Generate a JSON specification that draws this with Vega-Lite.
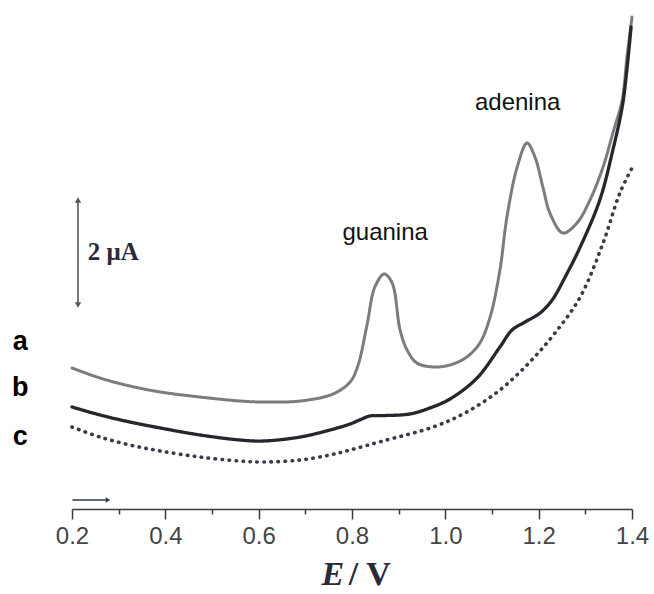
{
  "$schema": "https://vega.github.io/schema/vega-lite/v6.json",
  "width": 560,
  "height": 504,
  "autosize": "none",
  "padding": {"left": 72, "top": 5, "right": 22, "bottom": 85},
  "background": "white",
  "config": {"view": {"stroke": null}},
  "datasets": {
    "curves": [
      {"E": 0.200, "I": 2.686, "s": "a"}, {"E": 0.260, "I": 2.495, "s": "a"}, {"E": 0.324, "I": 2.343, "s": "a"},
      {"E": 0.389, "I": 2.229, "s": "a"}, {"E": 0.474, "I": 2.133, "s": "a"}, {"E": 0.560, "I": 2.057, "s": "a"},
      {"E": 0.609, "I": 2.038, "s": "a"}, {"E": 0.689, "I": 2.057, "s": "a"}, {"E": 0.759, "I": 2.190, "s": "a"},
      {"E": 0.796, "I": 2.420, "s": "a"}, {"E": 0.813, "I": 2.740, "s": "a"}, {"E": 0.832, "I": 3.500, "s": "a"},
      {"E": 0.849, "I": 4.229, "s": "a"}, {"E": 0.869, "I": 4.476, "s": "a"}, {"E": 0.886, "I": 4.305, "s": "a"},
      {"E": 0.903, "I": 3.410, "s": "a"}, {"E": 0.918, "I": 3.029, "s": "a"}, {"E": 0.939, "I": 2.781, "s": "a"},
      {"E": 0.974, "I": 2.705, "s": "a"}, {"E": 1.010, "I": 2.743, "s": "a"}, {"E": 1.046, "I": 2.895, "s": "a"},
      {"E": 1.074, "I": 3.162, "s": "a"}, {"E": 1.096, "I": 3.657, "s": "a"}, {"E": 1.117, "I": 4.552, "s": "a"},
      {"E": 1.132, "I": 5.562, "s": "a"}, {"E": 1.154, "I": 6.514, "s": "a"}, {"E": 1.175, "I": 6.971, "s": "a"},
      {"E": 1.192, "I": 6.705, "s": "a"}, {"E": 1.209, "I": 6.133, "s": "a"}, {"E": 1.224, "I": 5.638, "s": "a"},
      {"E": 1.252, "I": 5.257, "s": "a"}, {"E": 1.282, "I": 5.448, "s": "a"}, {"E": 1.310, "I": 5.886, "s": "a"},
      {"E": 1.338, "I": 6.514, "s": "a"}, {"E": 1.359, "I": 7.162, "s": "a"}, {"E": 1.379, "I": 7.790, "s": "a"},
      {"E": 1.389, "I": 8.590, "s": "a"}, {"E": 1.400, "I": 9.371, "s": "a"},

      {"E": 0.200, "I": 1.943, "s": "b"}, {"E": 0.260, "I": 1.790, "s": "b"}, {"E": 0.324, "I": 1.657, "s": "b"},
      {"E": 0.389, "I": 1.543, "s": "b"}, {"E": 0.474, "I": 1.410, "s": "b"}, {"E": 0.560, "I": 1.314, "s": "b"},
      {"E": 0.609, "I": 1.295, "s": "b"}, {"E": 0.689, "I": 1.371, "s": "b"}, {"E": 0.753, "I": 1.505, "s": "b"},
      {"E": 0.796, "I": 1.619, "s": "b"}, {"E": 0.821, "I": 1.714, "s": "b"}, {"E": 0.838, "I": 1.771, "s": "b"},
      {"E": 0.870, "I": 1.780, "s": "b"}, {"E": 0.924, "I": 1.810, "s": "b"}, {"E": 0.967, "I": 1.924, "s": "b"},
      {"E": 1.010, "I": 2.095, "s": "b"}, {"E": 1.068, "I": 2.495, "s": "b"}, {"E": 1.117, "I": 3.086, "s": "b"},
      {"E": 1.143, "I": 3.410, "s": "b"}, {"E": 1.171, "I": 3.562, "s": "b"}, {"E": 1.203, "I": 3.733, "s": "b"},
      {"E": 1.229, "I": 3.981, "s": "b"}, {"E": 1.259, "I": 4.457, "s": "b"}, {"E": 1.289, "I": 4.990, "s": "b"},
      {"E": 1.331, "I": 5.886, "s": "b"}, {"E": 1.359, "I": 6.838, "s": "b"}, {"E": 1.379, "I": 7.657, "s": "b"},
      {"E": 1.389, "I": 8.362, "s": "b"}, {"E": 1.398, "I": 9.181, "s": "b"},

      {"E": 0.200, "I": 1.562, "s": "c"}, {"E": 0.260, "I": 1.371, "s": "c"}, {"E": 0.324, "I": 1.219, "s": "c"},
      {"E": 0.389, "I": 1.105, "s": "c"}, {"E": 0.474, "I": 0.990, "s": "c"}, {"E": 0.560, "I": 0.914, "s": "c"},
      {"E": 0.609, "I": 0.895, "s": "c"}, {"E": 0.689, "I": 0.933, "s": "c"}, {"E": 0.753, "I": 1.029, "s": "c"},
      {"E": 0.796, "I": 1.124, "s": "c"}, {"E": 0.866, "I": 1.295, "s": "c"}, {"E": 0.974, "I": 1.562, "s": "c"},
      {"E": 1.046, "I": 1.848, "s": "c"}, {"E": 1.117, "I": 2.267, "s": "c"}, {"E": 1.181, "I": 2.800, "s": "c"},
      {"E": 1.235, "I": 3.352, "s": "c"}, {"E": 1.289, "I": 4.038, "s": "c"}, {"E": 1.338, "I": 5.067, "s": "c"},
      {"E": 1.374, "I": 6.019, "s": "c"}, {"E": 1.400, "I": 6.495, "s": "c"}
    ],
    "curveLabels": [
      {"E": 0.089, "I": 3.18, "t": "a"},
      {"E": 0.089, "I": 2.30, "t": "b"},
      {"E": 0.089, "I": 1.37, "t": "c"}
    ],
    "peaks": [
      {"E": 0.871, "I": 5.12, "t": "guanina"},
      {"E": 1.155, "I": 7.60, "t": "adenina"}
    ],
    "scalebar": [{"E": 0.2129, "I1": 3.886, "I2": 5.886, "t": "2 μA", "Et": 0.234, "Im": 4.886}]
  },
  "layer": [
    {
      "data": {"name": "curves"},
      "mark": {"type": "line", "interpolate": "catmull-rom", "strokeCap": "round"},
      "encoding": {
        "x": {
          "field": "E", "type": "quantitative",
          "scale": {"domain": [0.2, 1.4], "nice": false, "zero": false},
          "axis": {
            "values": [0.2, 0.3, 0.4, 0.5, 0.6, 0.7, 0.8, 0.9, 1.0, 1.1, 1.2, 1.3, 1.4],
            "title": null,
            "grid": false,
            "domainColor": "#3a3a44",
            "domainWidth": 1.5,
            "tickColor": "#3a3a44",
            "tickWidth": 1.5,
            "tickSize": {"condition": {"test": "round(datum.value*10)%2==0", "value": 10}, "value": 5},
            "labelExpr": "round(datum.value*10)%2==0 ? format(datum.value, '.1f') : ''",
            "labelFont": "Liberation Sans",
            "labelFontSize": 24,
            "labelColor": "#444",
            "labelPadding": 5,
            "labelOverlap": false,
            "labelFlush": false
          }
        },
        "y": {
          "field": "I", "type": "quantitative",
          "scale": {"domain": [0, 9.6], "nice": false, "zero": false},
          "axis": null
        },
        "color": {
          "field": "s", "type": "nominal",
          "scale": {"domain": ["a", "b", "c"], "range": ["#7c7c80", "#26262c", "#3a3a48"]},
          "legend": null
        },
        "strokeWidth": {
          "field": "s", "type": "nominal",
          "scale": {"domain": ["a", "b", "c"], "range": [3, 3.6, 3.4]},
          "legend": null
        },
        "strokeDash": {
          "field": "s", "type": "nominal",
          "scale": {"domain": ["a", "b", "c"], "range": [[1, 0], [1, 0], [0.5, 6.5]]},
          "legend": null
        }
      }
    },
    {
      "data": {"name": "curveLabels"},
      "mark": {"type": "text", "font": "Liberation Sans", "fontWeight": "bold", "fontSize": 27, "color": "#000", "baseline": "middle", "align": "center"},
      "encoding": {
        "x": {"field": "E", "type": "quantitative"},
        "y": {"field": "I", "type": "quantitative"},
        "text": {"field": "t"}
      }
    },
    {
      "data": {"name": "peaks"},
      "mark": {"type": "text", "font": "Liberation Sans", "fontSize": 24, "color": "#111", "baseline": "alphabetic", "align": "center"},
      "encoding": {
        "x": {"field": "E", "type": "quantitative"},
        "y": {"field": "I", "type": "quantitative"},
        "text": {"field": "t"}
      }
    },
    {
      "data": {"name": "scalebar"},
      "mark": {"type": "rule", "color": "#55555c", "strokeWidth": 1.6},
      "encoding": {
        "x": {"field": "E", "type": "quantitative"},
        "y": {"field": "I1", "type": "quantitative"},
        "y2": {"field": "I2"}
      }
    },
    {
      "data": {"name": "scalebar"},
      "mark": {"type": "point", "shape": "triangle-up", "filled": true, "size": 40, "color": "#55555c", "opacity": 1},
      "encoding": {
        "x": {"field": "E", "type": "quantitative"},
        "y": {"field": "I2", "type": "quantitative"}
      }
    },
    {
      "data": {"name": "scalebar"},
      "mark": {"type": "point", "shape": "triangle-down", "filled": true, "size": 40, "color": "#55555c", "opacity": 1},
      "encoding": {
        "x": {"field": "E", "type": "quantitative"},
        "y": {"field": "I1", "type": "quantitative"}
      }
    },
    {
      "data": {"name": "scalebar"},
      "mark": {"type": "text", "font": "Liberation Serif", "fontWeight": "bold", "fontSize": 25, "color": "#2a2a3a", "baseline": "middle", "align": "left"},
      "encoding": {
        "x": {"field": "Et", "type": "quantitative"},
        "y": {"field": "Im", "type": "quantitative"},
        "text": {"field": "t"}
      }
    },
    {
      "data": {"values": [{"E1": 0.201, "E2": 0.272, "I": 0.171}]},
      "mark": {"type": "rule", "color": "#2a3a4a", "strokeWidth": 1.5},
      "encoding": {
        "x": {"field": "E1", "type": "quantitative"},
        "x2": {"field": "E2"},
        "y": {"field": "I", "type": "quantitative"}
      }
    },
    {
      "data": {"values": [{"Eh": 0.277, "I": 0.171}]},
      "mark": {"type": "point", "shape": "triangle-right", "filled": true, "size": 30, "color": "#2a3a4a", "opacity": 1},
      "encoding": {
        "x": {"field": "Eh", "type": "quantitative"},
        "y": {"field": "I", "type": "quantitative"}
      }
    },
    {
      "data": {"values": [{"E": 0.759, "I": -1.25, "t": "E"}]},
      "mark": {"type": "text", "font": "Liberation Serif", "fontWeight": "bold", "fontStyle": "italic", "fontSize": 34, "color": "#2a2a3a", "baseline": "middle", "align": "center"},
      "encoding": {
        "x": {"field": "E", "type": "quantitative"},
        "y": {"field": "I", "type": "quantitative"},
        "text": {"field": "t"}
      }
    },
    {
      "data": {"values": [{"E": 0.838, "I": -1.25, "t": "/ V"}]},
      "mark": {"type": "text", "font": "Liberation Serif", "fontWeight": "bold", "fontSize": 34, "color": "#2a2a3a", "baseline": "middle", "align": "center"},
      "encoding": {
        "x": {"field": "E", "type": "quantitative"},
        "y": {"field": "I", "type": "quantitative"},
        "text": {"field": "t"}
      }
    }
  ]
}
